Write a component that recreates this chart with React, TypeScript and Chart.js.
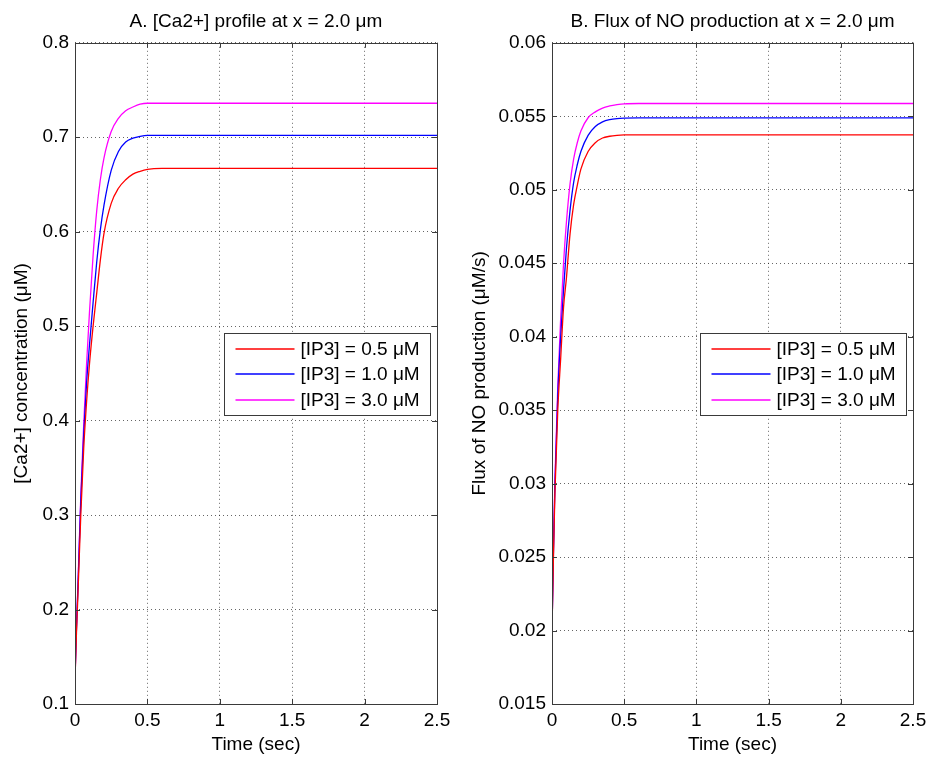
import React, { useEffect, useRef } from "react";
import { Chart, registerables } from "chart.js";

Chart.register(...registerables);

// ---- data ----
const timeSec = [0, 0.01, 0.02, 0.04, 0.06, 0.08, 0.1, 0.125, 0.15, 0.175, 0.2, 0.25, 0.3, 0.35, 0.4, 0.45, 0.5, 0.6, 0.8, 1.0, 1.5, 2.0, 2.5];

const seriesLabels = ["[IP3] = 0.5 μM", "[IP3] = 1.0 μM", "[IP3] = 3.0 μM"];

// Panel A: [Ca2+] (μM)
const caIP3_05 = [0.125, 0.175, 0.215, 0.3, 0.37, 0.42, 0.46, 0.5, 0.535, 0.57, 0.598, 0.63, 0.646, 0.655, 0.661, 0.664, 0.666, 0.667, 0.667, 0.667, 0.667, 0.667, 0.667];
const caIP3_10 = [0.128, 0.18, 0.222, 0.315, 0.385, 0.44, 0.48, 0.525, 0.568, 0.602, 0.628, 0.665, 0.685, 0.695, 0.699, 0.701, 0.702, 0.702, 0.702, 0.702, 0.702, 0.702, 0.702];
const caIP3_30 = [0.125, 0.18, 0.225, 0.32, 0.395, 0.46, 0.515, 0.575, 0.622, 0.655, 0.678, 0.706, 0.72, 0.728, 0.732, 0.735, 0.736, 0.736, 0.736, 0.736, 0.736, 0.736, 0.736];

// Panel B: NO flux (μM/s)
const noIP3_05 = [0.02, 0.025, 0.0293, 0.035, 0.0385, 0.042, 0.044, 0.047, 0.049, 0.0503, 0.0514, 0.0526, 0.0532, 0.05352, 0.05364, 0.0537, 0.05373, 0.05374, 0.05374, 0.05374, 0.05374, 0.05374, 0.05374];
const noIP3_10 = [0.02, 0.0253, 0.0298, 0.036, 0.04, 0.0432, 0.046, 0.0486, 0.0505, 0.0517, 0.0526, 0.0537, 0.0543, 0.05462, 0.05477, 0.05484, 0.05487, 0.05489, 0.05489, 0.05489, 0.05489, 0.05489, 0.05489];
const noIP3_30 = [0.02, 0.0255, 0.0302, 0.0366, 0.0412, 0.045, 0.0478, 0.0504, 0.0521, 0.0532, 0.054, 0.0549, 0.0553, 0.05556, 0.0557, 0.05579, 0.05585, 0.05587, 0.05587, 0.05587, 0.05587, 0.05587, 0.05587];

const xTicks = [0, 0.5, 1, 1.5, 2, 2.5];
const caTicks = [0.1, 0.2, 0.3, 0.4, 0.5, 0.6, 0.7, 0.8];
const noTicks = [0.015, 0.02, 0.025, 0.03, 0.035, 0.04, 0.045, 0.05, 0.055, 0.06];

const lineColors = ["rgb(255,0,0)", "rgb(0,0,255)", "rgb(255,0,255)"];

const FONT = "'Liberation Sans', Arial, Helvetica, sans-serif";
const fmt = (v: number) => String(+Number(v).toFixed(4));

type PanelProps = {
  left: number;
  width: number;
  rightPad: number;
  axisWidth: number;
  yTitlePad: number;
  title: string;
  yTitle: string;
  yTickValues: number[];
  values: number[][];
};

function Panel(p: PanelProps) {
  const ref = useRef<HTMLCanvasElement>(null);
  useEffect(() => {
    const boxPlugin = {
      id: "boxPlugin",
      afterDatasetsDraw(chart: any) {
        const { ctx, chartArea: a, scales } = chart;
        ctx.save();
        ctx.strokeStyle = "#3a3a3a";
        ctx.lineWidth = 1;
        ctx.beginPath();
        const tl = 5;
        xTicks.forEach((v) => {
          const x = Math.round(scales.x.getPixelForValue(v)) + 0.5;
          ctx.moveTo(x, a.bottom);
          ctx.lineTo(x, a.bottom - tl);
          ctx.moveTo(x, a.top);
          ctx.lineTo(x, a.top + tl);
        });
        p.yTickValues.forEach((v) => {
          const y = Math.round(scales.y.getPixelForValue(v)) + 0.5;
          ctx.moveTo(a.left, y);
          ctx.lineTo(a.left + tl, y);
          ctx.moveTo(a.right, y);
          ctx.lineTo(a.right - tl, y);
        });
        ctx.stroke();
        ctx.strokeRect(Math.round(a.left) + 0.5, Math.round(a.top) + 0.5, Math.round(a.right - a.left), Math.round(a.bottom - a.top));

        // legend box
        const bw = 206, bh = 82;
        const bx = Math.round(a.right) - 7 - bw + 0.5;
        const by = Math.round(a.top) + 290 + 0.5;
        ctx.fillStyle = "#fff";
        ctx.fillRect(bx, by, bw, bh);
        ctx.strokeStyle = "#3a3a3a";
        ctx.strokeRect(bx, by, bw, bh);
        ctx.font = `19px ${FONT}`;
        ctx.textBaseline = "middle";
        ctx.textAlign = "left";
        chart.data.datasets.forEach((ds: any, i: number) => {
          const ry = Math.round(by + 15 + i * 25.7);
          ctx.beginPath();
          ctx.strokeStyle = lineColors[i];
          ctx.lineWidth = 1.3;
          ctx.moveTo(bx + 11, ry);
          ctx.lineTo(bx + 70, ry);
          ctx.stroke();
          ctx.fillStyle = "#000";
          ctx.fillText(ds.label, bx + 76, ry + 1);
        });
        ctx.restore();
      },
    };

    const yMin = p.yTickValues[0];
    const yMax = p.yTickValues[p.yTickValues.length - 1];
    const yStep = +(p.yTickValues[1] - p.yTickValues[0]).toFixed(4);

    const chart = new Chart(ref.current as HTMLCanvasElement, {
      type: "line",
      data: {
        datasets: p.values.map((vals, i) => ({
          label: seriesLabels[i],
          data: timeSec.map((t, j) => ({ x: t, y: vals[j] })),
          borderColor: lineColors[i],
          backgroundColor: lineColors[i],
          borderWidth: 1.3,
          pointRadius: 0,
          cubicInterpolationMode: "monotone",
          fill: false,
        })),
      },
      options: {
        responsive: false,
        animation: false,
        layout: { padding: { top: 0, right: p.rightPad, bottom: 0, left: 0 } },
        plugins: {
          legend: { display: false },
          tooltip: { enabled: false },
          title: {
            display: true,
            text: p.title,
            fullSize: false,
            color: "#000",
            font: { family: FONT, size: 19, weight: "normal" },
            padding: { top: 10, bottom: 10 },
          },
        },
        scales: {
          x: {
            type: "linear",
            min: 0,
            max: 2.5,
            ticks: {
              stepSize: 0.5,
              color: "#000",
              font: { family: FONT, size: 19 },
              padding: 5,
              maxRotation: 0,
              callback: (v: any) => fmt(v),
            },
            grid: { color: "rgba(0,0,0,0.6)", drawTicks: false, lineWidth: 1 },
            border: { display: false, dash: [1, 3] },
            title: {
              display: true,
              text: "Time (sec)",
              color: "#000",
              font: { family: FONT, size: 19 },
              padding: { top: 0, bottom: 1 },
            },
            afterFit: (s: any) => {
              s.height = 53;
            },
          },
          y: {
            type: "linear",
            min: yMin,
            max: yMax,
            ticks: {
              stepSize: yStep,
              color: "#000",
              font: { family: FONT, size: 19 },
              padding: 6,
              callback: (v: any) => fmt(v),
            },
            grid: { color: "rgba(0,0,0,0.6)", drawTicks: false, lineWidth: 1 },
            border: { display: false, dash: [1, 3] },
            title: {
              display: true,
              text: p.yTitle,
              color: "#000",
              font: { family: FONT, size: 19 },
              padding: { top: p.yTitlePad, bottom: 0 },
            },
            afterFit: (s: any) => {
              s.width = p.axisWidth;
            },
          },
        },
      } as any,
      plugins: [boxPlugin],
    });
    return () => chart.destroy();
  }, []);
  return (
    <canvas
      ref={ref}
      width={p.width}
      height={757}
      style={{ position: "absolute", left: p.left, top: 0, width: p.width, height: 757 }}
    />
  );
}

export default function App() {
  return (
    <div style={{ position: "absolute", left: 0, top: 0, width: 938, height: 757, background: "#fff" }}>
      <Panel
        left={0}
        width={460}
        rightPad={23}
        axisWidth={75}
        yTitlePad={10}
        title="A. [Ca2+] profile at x = 2.0 μm"
        yTitle="[Ca2+] concentration (μM)"
        yTickValues={caTicks}
        values={[caIP3_05, caIP3_10, caIP3_30]}
      />
      <Panel
        left={460}
        width={478}
        rightPad={25}
        axisWidth={92}
        yTitlePad={8}
        title="B. Flux of NO production at x = 2.0 μm"
        yTitle="Flux of NO production (μM/s)"
        yTickValues={noTicks}
        values={[noIP3_05, noIP3_10, noIP3_30]}
      />
    </div>
  );
}
